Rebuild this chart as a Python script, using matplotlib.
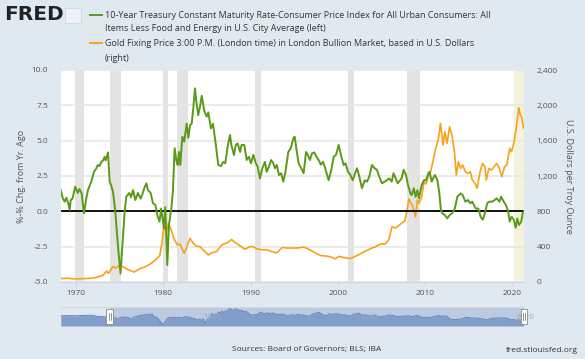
import matplotlib
matplotlib.use("Agg")
import matplotlib.pyplot as plt
import matplotlib.transforms as mtransforms
from matplotlib.lines import Line2D
from matplotlib.patches import Rectangle
from matplotlib.ticker import FuncFormatter

plt.rcParams['font.family'] = ['Open Sans', 'DejaVu Sans']

## 10-year treasury minus core CPI (left axis, %)
real_years = [1968.25, 1968.5, 1968.7, 1968.9, 1969.1, 1969.28, 1969.4, 1969.6, 1969.92, 1970.2,
              1970.4, 1970.65, 1970.92, 1971.15, 1971.37, 1971.75, 1972.06, 1972.3, 1972.5, 1972.7,
              1972.9, 1973.1, 1973.28, 1973.4, 1973.55, 1973.67, 1973.86, 1974.05, 1974.24, 1974.5,
              1974.8, 1975.1, 1975.25, 1975.38, 1975.58, 1975.76, 1976.1, 1976.3, 1976.53, 1976.8,
              1977.1, 1977.4, 1977.6, 1977.79, 1978.06, 1978.25, 1978.55, 1978.82, 1979.1, 1979.31,
              1979.57, 1979.76, 1980.08, 1980.23, 1980.46, 1980.65, 1980.92, 1981.1, 1981.3, 1981.5,
              1981.65, 1981.8, 1981.95, 1982.18, 1982.4, 1982.68, 1982.87, 1983.06, 1983.25, 1983.44,
              1983.63, 1983.8, 1984.0, 1984.2, 1984.4, 1984.7, 1984.97, 1985.16, 1985.46, 1985.7,
              1986.0, 1986.3, 1986.6, 1986.87, 1987.1, 1987.37, 1987.64, 1987.8, 1988.1, 1988.3,
              1988.52, 1988.8, 1988.97, 1989.28, 1989.55, 1989.8, 1990.05, 1990.31, 1990.6, 1990.8,
              1991.08, 1991.35, 1991.65, 1991.84, 1992.1, 1992.35, 1992.6, 1992.8, 1993.0, 1993.25,
              1993.5, 1993.75, 1994.0, 1994.32, 1994.6, 1994.9, 1995.05, 1995.3, 1995.5, 1995.8,
              1996.08, 1996.35, 1996.55, 1996.8, 1997.03, 1997.3, 1997.55, 1997.8, 1998.05, 1998.3,
              1998.55, 1998.94, 1999.25, 1999.52, 1999.8, 2000.09, 2000.4, 2000.67, 2000.87, 2001.16,
              2001.43, 2001.7, 2001.9, 2002.19, 2002.46, 2002.76, 2003.07, 2003.33, 2003.6, 2003.9,
              2004.2, 2004.47, 2004.74, 2005.05, 2005.35, 2005.6, 2005.87, 2006.17, 2006.37, 2006.63,
              2006.86, 2007.13, 2007.3, 2007.53, 2007.8, 2008.03, 2008.15, 2008.3, 2008.45, 2008.7,
              2008.9, 2009.1, 2009.29, 2009.6, 2009.86, 2010.1, 2010.37, 2010.5, 2010.75, 2010.9,
              2011.12, 2011.4, 2011.6, 2011.8, 2011.96, 2012.25, 2012.53, 2012.8, 2013.1, 2013.4,
              2013.68, 2014.06, 2014.3, 2014.6, 2014.9, 2015.17, 2015.4, 2015.78, 2016.08, 2016.35,
              2016.6, 2016.9, 2017.1, 2017.35, 2017.65, 2017.96, 2018.2, 2018.5, 2018.7, 2019.0,
              2019.25, 2019.5, 2019.68, 2019.9, 2020.15, 2020.37, 2020.55, 2020.75, 2021.0, 2021.17,
              2021.28]
real_vals = [1.5, 0.9, 0.68, 0.96, 0.6, 0.1, 0.8, 0.9, 1.74, 1.3,
             1.58, 1.27, -0.14, 0.8, 1.5, 2.1, 2.8, 3.0, 3.28, 3.2,
             3.5, 3.6, 3.86, 3.6, 3.9, 4.17, 2.1, 1.8, 1.39, 0.0,
             -2.4, -4.4, -3.0, -1.9, 0.0, 1.03, 1.3, 1.0, 1.5, 0.8,
             1.3, 0.9, 1.2, 1.58, 1.98, 1.5, 1.3, 0.57, 0.45, -0.26,
             -0.73, 0.2, -1.2, 0.3, -3.8, -0.97, 0.2, 1.39, 4.46, 3.6,
             3.28, 4.2, 3.28, 5.28, 4.93, 6.2, 5.2, 6.1, 6.2, 7.29,
             8.7, 7.7, 6.8, 7.4, 8.18, 7.1, 6.7, 7.0, 5.87, 6.2,
             4.81, 3.28, 3.2, 3.5, 3.4, 4.57, 5.4, 4.7, 3.98, 4.7,
             4.8, 4.2, 4.7, 4.7, 3.63, 3.86, 3.4, 4.0, 3.4, 3.17,
             2.33, 3.05, 3.5, 2.8, 3.17, 3.63, 3.4, 3.05, 3.28, 2.57,
             2.7, 2.1, 2.8, 4.2, 4.46, 5.17, 5.28, 4.2, 3.4, 3.05,
             2.7, 4.2, 4.0, 3.63, 4.1, 4.17, 3.86, 3.63, 3.3, 3.5,
             3.05, 2.2, 2.94, 3.86, 4.0, 4.7, 3.86, 3.28, 3.4, 2.8,
             2.57, 2.2, 2.57, 3.05, 2.45, 1.63, 2.2, 2.1, 2.45, 3.28,
             3.05, 2.94, 2.45, 1.98, 2.1, 2.2, 2.33, 2.1, 2.7, 2.33,
             1.98, 2.2, 2.33, 2.94, 2.57, 1.86, 1.63, 1.27, 1.15, 1.63,
             1.03, 1.5, 0.92, 1.86, 2.2, 2.2, 2.7, 2.8, 2.1, 2.33,
             2.57, 2.2, 1.39, 0.1, -0.14, -0.26, -0.5, -0.26, -0.14, 0.2,
             1.03, 1.27, 1.15, 0.68, 0.8, 0.57, 0.68, 0.2, 0.2, -0.38,
             -0.6, 0.0, 0.57, 0.68, 0.68, 0.8, 0.92, 0.68, 1.03, 0.68,
             0.45, 0.0, -0.73, -0.38, -0.6, -1.16, -0.5, -0.97, -0.73, -0.14,
             0.0]

## gold fixing price (right axis, USD)
gold_years = [1968.25, 1969.0, 1969.7, 1970.5, 1971.0, 1971.75, 1972.3, 1972.7, 1973.1, 1973.5,
              1973.7, 1974.0, 1974.24, 1974.6, 1975.0, 1975.38, 1975.95, 1976.65, 1977.3, 1977.9,
              1978.45, 1979.0, 1979.6, 1979.85, 1980.08, 1980.3, 1980.6, 1980.9, 1981.3, 1981.6,
              1981.9, 1982.4, 1982.7, 1983.06, 1983.44, 1983.8, 1984.2, 1984.58, 1985.16, 1985.54,
              1986.1, 1986.7, 1987.25, 1987.83, 1988.2, 1988.8, 1989.35, 1989.9, 1990.3, 1990.7,
              1991.3, 1991.84, 1992.4, 1993.0, 1993.6, 1994.15, 1994.7, 1995.4, 1996.08, 1996.6,
              1997.2, 1997.98, 1998.55, 1999.1, 1999.7, 2000.09, 2000.67, 2001.43, 2002.0, 2002.57,
              2003.15, 2003.7, 2004.3, 2004.9, 2005.45, 2005.83, 2006.2, 2006.6, 2006.98, 2007.36,
              2007.67, 2007.94, 2008.13, 2008.33, 2008.53, 2008.9, 2009.1, 2009.29, 2009.6, 2009.86,
              2010.1, 2010.37, 2010.6, 2010.9, 2011.2, 2011.5, 2011.75, 2012.05, 2012.25, 2012.5,
              2012.8, 2013.1, 2013.35, 2013.57, 2013.8, 2014.06, 2014.3, 2014.6, 2014.9, 2015.17,
              2015.4, 2015.7, 2015.95, 2016.25, 2016.55, 2016.85, 2017.0, 2017.3, 2017.6, 2017.9,
              2018.2, 2018.5, 2018.77, 2019.1, 2019.35, 2019.68, 2019.9, 2020.15, 2020.37, 2020.55,
              2020.72, 2020.9, 2021.05, 2021.15, 2021.28]
gold_vals = [40, 42, 36, 36, 39, 43, 50, 65, 75, 124,
             98, 140, 174, 160, 190, 174, 140, 112, 150, 170,
             200, 240, 300, 440, 664, 551, 664, 589, 475, 419,
             430, 325, 400, 494, 438, 405, 400, 362, 306, 330,
             345, 420, 440, 480, 450, 410, 370, 400, 400, 375,
             365, 365, 345, 330, 390, 385, 385, 385, 395, 375,
             340, 300, 295, 287, 262, 290, 278, 265, 290, 320,
             350, 375, 400, 430, 430, 480, 626, 610, 640, 670,
             690, 820, 940, 900, 870, 739, 928, 890, 960, 1135,
             1110, 1200, 1240, 1370, 1513, 1607, 1796, 1551, 1702, 1570,
             1758, 1645, 1475, 1211, 1362, 1286, 1324, 1249, 1230, 1249,
             1154, 1116, 1060, 1230, 1343, 1305, 1154, 1286, 1267, 1305,
             1343, 1286, 1192, 1305, 1324, 1513, 1475, 1570, 1702, 1834,
             1973, 1890, 1870, 1815, 1740]

## earlier values only shown in the navigator
nav_early_years = [1962.0, 1963.0, 1964.0, 1965.0, 1966.0, 1966.8, 1967.5, 1968.0]
nav_early_vals = [2.6, 2.7, 2.6, 2.9, 3.0, 2.0, 1.9, 1.5]

recessions = [(1969.92, 1970.87), (1973.87, 1975.2), (1980.0, 1980.54), (1981.54, 1982.87),
              (1990.54, 1991.2), (2001.2, 2001.87), (2007.92, 2009.45)]
covid_start = 2020.12

left_ticks = [-5.0, -2.5, 0.0, 2.5, 5.0, 7.5, 10.0]
right_ticks = [0, 400, 800, 1200, 1600, 2000, 2400]
year_ticks = [1970, 1980, 1990, 2000, 2010, 2020]

GREEN = '#5b9a17'
ORANGE = '#f7a21b'
BG = '#e1e9f0'
TXT = '#555555'
W, H = 585, 359
x0, x1 = 1968.25, 2021.32

fig = plt.figure(figsize=(W / 100, H / 100), dpi=100, facecolor=BG)

## ax2 underneath (white patch, shading, grid, gold) ; ax on top (green line)
ax2 = fig.add_axes([60.7 / W, 1 - 282 / H, (524 - 60.7) / W, 212 / H])
ax = ax2.twinx()
ax.set_zorder(ax2.get_zorder() + 1)
ax.patch.set_visible(False)
ax2.set_facecolor('white')

ax2.yaxis.tick_right()
ax.yaxis.tick_left()
ax2.yaxis.set_label_position('right')
ax.yaxis.set_label_position('left')

for a, b in recessions:
    ax2.axvspan(a, b, color='#e3e3e3', lw=0, zorder=0)
ax2.axvspan(covid_start, x1, color='#f4f2dc', lw=0, zorder=0)

ax2.set_ylim(0, 2400)
ax2.set_yticks(right_ticks)
ax2.yaxis.set_major_formatter(FuncFormatter(lambda v, p: f'{int(v):,}'))
ax2.grid(axis='y', color='#e6e6e6', lw=1.1, zorder=0.5)
ax2.set_axisbelow(True)
ax2.plot(gold_years, gold_vals, color=ORANGE, lw=1.2, zorder=2)

ax.set_ylim(-5, 10)
ax.set_yticks(left_ticks)
ax.yaxis.set_major_formatter(FuncFormatter(lambda v, p: f'{v:.1f}'))
ax.axhline(0, color='black', lw=1.3, zorder=3)
ax.plot(real_years, real_vals, color=GREEN, lw=1.4, zorder=4)

ax2.set_xlim(x0, x1)
ax2.set_xticks(year_ticks)
for a in (ax, ax2):
    for s in a.spines.values():
        s.set_visible(False)
ax2.spines['bottom'].set_visible(True)
ax2.spines['bottom'].set_color('#ccd6eb')
ax2.tick_params(axis='x', length=3, color='#ccd6eb', labelsize=6, labelcolor=TXT, pad=3)
ax2.tick_params(axis='y', length=0, labelsize=6, labelcolor=TXT, pad=9)
ax.tick_params(axis='y', length=0, labelsize=6, labelcolor=TXT, pad=9)

ax.set_ylabel('%-% Chg. from Yr. Ago', fontsize=6.5, color=TXT, labelpad=4)
ax2.set_ylabel('U.S. Dollars per Troy Ounce', fontsize=6.5, color=TXT, rotation=270,
               labelpad=11)

## header: logo and legend
fig.text(3.7 / W, 1 - 15 / H, 'FRED', family='DejaVu Sans', weight='bold', fontsize=14.5,
         color='#222222', va='center', ha='left')
fig.add_artist(Rectangle((65 / W, 1 - 23 / H), 16 / W, 15 / H, facecolor='#eef2f6',
                         edgecolor='#c9d3de', lw=0.5))
legend_rows = [
    (15, GREEN, '10-Year Treasury Constant Maturity Rate-Consumer Price Index for All Urban Consumers: All'),
    (28.7, None, 'Items Less Food and Energy in U.S. City Average (left)'),
    (43, ORANGE, 'Gold Fixing Price 3:00 P.M. (London time) in London Bullion Market, based in U.S. Dollars'),
    (58.6, None, '(right)'),
]
for y, col, txt in legend_rows:
    if col:
        fig.add_artist(Line2D([89.5 / W, 101.5 / W], [1 - y / H, 1 - y / H], color=col, lw=1.4))
    fig.text(105 / W, 1 - y / H, txt, fontsize=6.5, color='#333333', va='center', ha='left')

## navigator
nav = fig.add_axes([60.8 / W, 1 - 326 / H, (524 - 60.8) / W, 19 / H])
nav.set_facecolor(BG)
nav_years = nav_early_years + real_years
nav_vals = nav_early_vals + real_vals
nav.set_xlim(1962.0, x1)
nav.set_ylim(-5.5, 9.5)
nav.axvspan(x0, x1, color='#bccae0', lw=0, zorder=0)
nav.fill_between(nav_years, nav_vals, -5.5, color='#819dc9', lw=0, zorder=1)
nav.plot(nav_years, nav_vals, color='#6888bb', lw=0.7, zorder=2)
nav.set_xticks([])
nav.set_yticks([])
for k, s in nav.spines.items():
    s.set_visible(k == 'top')
nav.spines['top'].set_color('#cfd8e3')
for yr in (1980, 2000, 2020):
    nav.text(yr + 0.3, 1.5, str(yr), fontsize=6, color='#9eabbf', va='center', ha='left',
             zorder=3, clip_on=False)
btrans = mtransforms.blended_transform_factory(nav.transData, nav.transAxes)
for hx in (x0, x1):
    nav.add_patch(Rectangle((hx - 0.4, 0.12), 0.8, 0.76, transform=btrans, facecolor='white',
                            edgecolor='#888888', lw=0.6, zorder=5, clip_on=False))
    for dx in (-0.12, 0.12):
        nav.add_line(Line2D([hx + dx, hx + dx], [0.3, 0.7], transform=btrans, color='#666666',
                            lw=0.5, zorder=6, clip_on=False))

fig.text(307 / W, 1 - 350 / H, 'Sources: Board of Governors; BLS; IBA', fontsize=6,
         color='#333333', ha='center', va='center')
fig.text(578 / W, 1 - 350 / H, 'fred.stlouisfed.org', fontsize=6, color='#333333',
         ha='right', va='center')

fig.savefig('out.png', dpi=100, facecolor=BG)
